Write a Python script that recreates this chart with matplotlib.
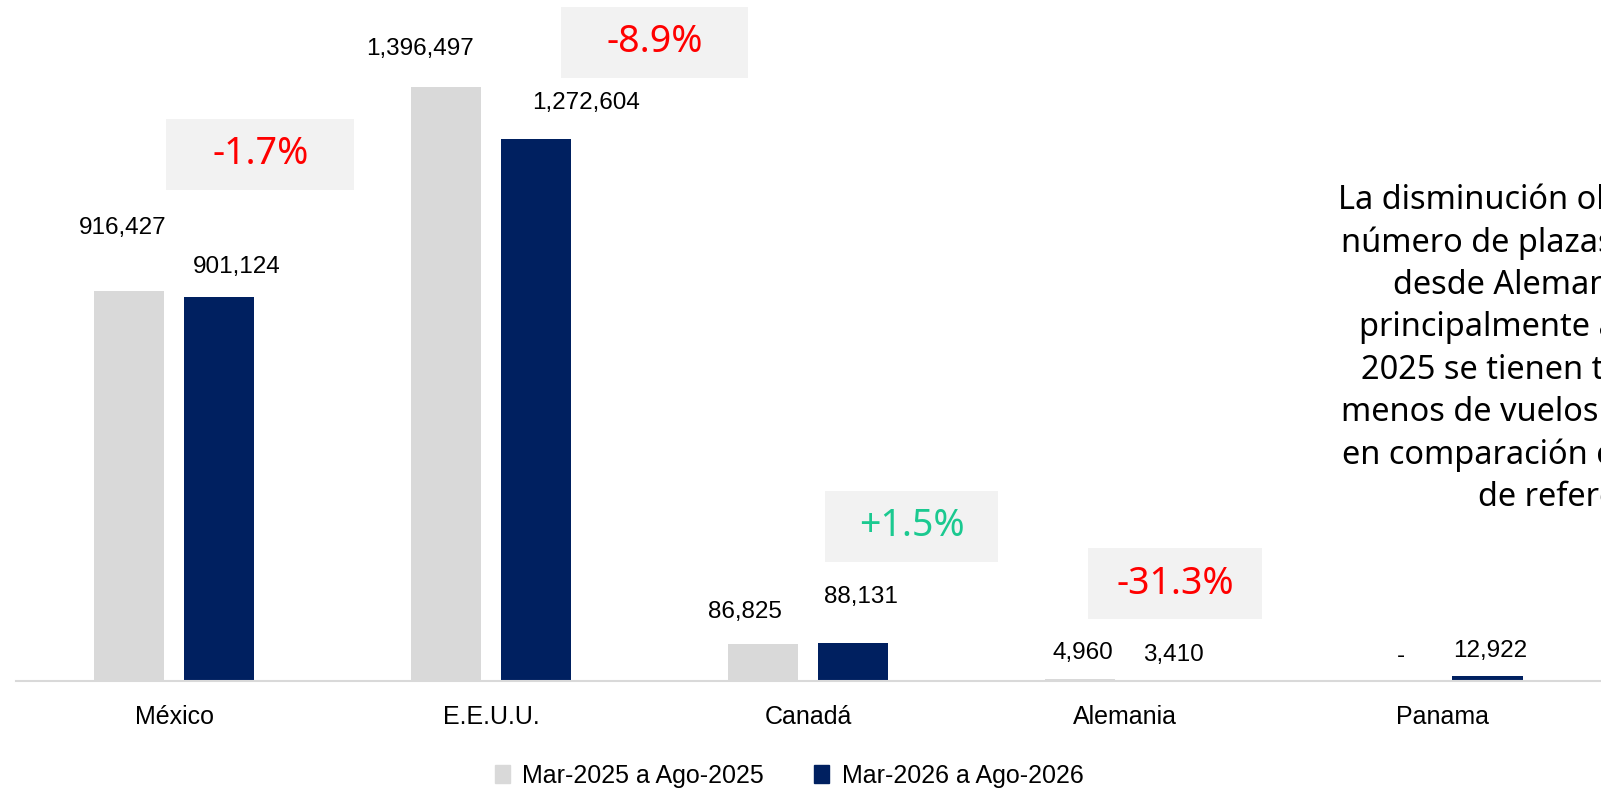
import numpy as np
import matplotlib
matplotlib.use('Agg')
import matplotlib.pyplot as plt
from matplotlib.patches import Rectangle, Patch

# data
paises = ['México', 'E.E.U.U.', 'Canadá', 'Alemania', 'Panama']
plazas_2025 = [916427, 1396497, 86825, 4960, 0]
plazas_2026 = [901124, 1272604, 88131, 3410, 12922]
serie_labels = ['Mar-2025 a Ago-2025', 'Mar-2026 a Ago-2026']

nota = ('La disminución observada en el\n'
        'número de plazas ofertadas en\n'
        'desde Alemania se debe\n'
        'principalmente a que para el\n'
        '2025 se tienen tres semanas\n'
        'menos de vuelos programados\n'
        'en comparación con el periodo\n'
        'de referencia')

# layout (pixels at dpi=100)
GRIS = '#D9D9D9'
AZUL = '#002060'
lbl_off_2025 = [(-6, 63), (-26, 38), (-18, 32), (3, 26), (4, 25)]
lbl_off_2026 = [(18, 30), (50, 36), (8, 46), (3, 25), (3, 25)]
# percent boxes: (x centre, y centre, width) in data units
cajas = [(0.272, 1.238e6, 0.593), (1.515, 1.501e6, 0.590),
         (2.326, 3.64e5, 0.546), (3.158, 2.28e5, 0.549)]
caja_h = 1.668e5

plt.rcParams['font.family'] = ['Liberation Sans', 'DejaVu Sans']

fig = plt.figure(figsize=(16.01, 7.90), dpi=100)
ax = fig.add_axes([15.5 / 1601, 109 / 790, 1 - 15.5 / 1601, 681 / 790])

x = np.arange(len(paises))
off, w = 0.142, 0.221
ax.bar(x - off, plazas_2025, w, color=GRIS, label=serie_labels[0])
ax.bar(x + off, plazas_2026, w, color=AZUL, label=serie_labels[1])

def etiqueta(v):
    return '-' if v == 0 else f'{v:,}'

def variacion(a, b):
    # Excel style rounding (half away from zero)
    v = (b - a) / a * 100
    r = np.sign(v) * np.floor(abs(v) * 10 + 0.5) / 10
    return ('+' if r > 0 else '') + f'{r:.1f}%'

for i in range(len(paises)):
    for vals, offs, sgn in ((plazas_2025, lbl_off_2025, -1), (plazas_2026, lbl_off_2026, 1)):
        ax.annotate(etiqueta(vals[i]), (x[i] + sgn * off, vals[i]),
                    xytext=offs[i], textcoords='offset pixels',
                    ha='center', va='center', fontsize=17.5, color='black')

# variation boxes
for i, (cx, cy, bw) in enumerate(cajas):
    txt = variacion(plazas_2025[i], plazas_2026[i])
    color = '#FF0000' if txt.startswith('-') else '#1BC990'
    ax.add_patch(Rectangle((cx - bw / 2, cy - caja_h / 2), bw, caja_h,
                           facecolor='#F2F2F2', edgecolor='none', zorder=1))
    ax.text(cx, cy, txt, ha='center', va='center', fontsize=27, color=color,
            family=['Noto Sans', 'DejaVu Sans'], zorder=2)

ax.set_xlim(-0.5, 4.5)
ax.set_ylim(0, 1.6e6)
ax.set_xticks(x, paises, fontsize=18)
ax.tick_params(axis='x', length=0, pad=17)
ax.set_yticks([])
for s in ['top', 'left', 'right']:
    ax.spines[s].set_visible(False)
ax.spines['bottom'].set_color(GRIS)
ax.spines['bottom'].set_linewidth(1.5)

handles = [Patch(color=GRIS), Patch(color=AZUL)]
fig.legend(handles, serie_labels, loc='center', bbox_to_anchor=(789 / 1601, 1 - 776 / 790),
           ncol=2, frameon=False, fontsize=18, handlelength=0.6, handleheight=0.75,
           handletextpad=0.5, columnspacing=2.0)

# note box, clipped by the right edge as in the original
fig.text(1578.5 / 1601, 1 - 349 / 790, nota, ha='center', va='center',
         multialignment='center', fontsize=23.4, linespacing=1.37,
         family=['Noto Sans', 'DejaVu Sans'], color='black')

fig.savefig('out.png', dpi=100)
